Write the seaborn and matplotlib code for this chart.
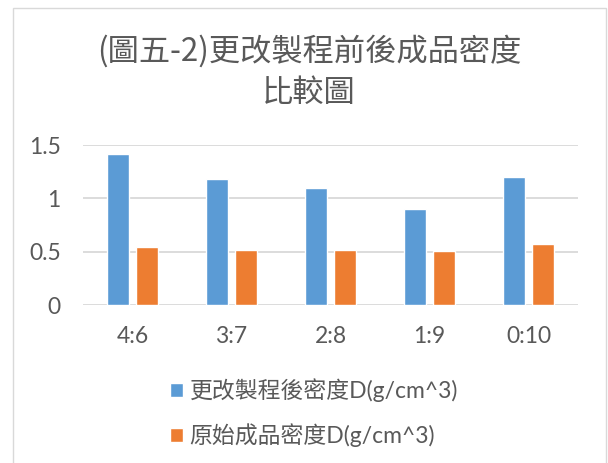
import matplotlib
matplotlib.use("Agg")
import matplotlib.pyplot as plt
import seaborn as sns
import pandas as pd
from matplotlib.patches import Rectangle

# Mixing ratios and density values (g/cm^3)
categories = ["4:6", "3:7", "2:8", "1:9", "0:10"]
after_change = [1.42, 1.18, 1.10, 0.90, 1.20]
original = [0.54, 0.52, 0.52, 0.51, 0.57]
series_names = ["更改製程後密度D(g/cm^3)", "原始成品密度D(g/cm^3)"]
y_ticks = [0, 0.5, 1, 1.5]
y_tick_labels = ["0", "0.5", "1", "1.5"]
title = "(圖五-2)更改製程前後成品密度\n比較圖"

colors = ["#5B9BD5", "#ED7D31"]
text_color = "#595959"
grid_color = "#D9D9D9"

df = pd.DataFrame({
    "ratio": categories * 2,
    "density": after_change + original,
    "series": [series_names[0]] * len(categories) + [series_names[1]] * len(categories),
})

sns.set_theme(style="white")
latin_cjk = ["Lato", "Noto Sans CJK TC", "DejaVu Sans"]
plt.rcParams["font.family"] = latin_cjk

fig = plt.figure(figsize=(6.08, 4.63), dpi=100)
ax = fig.add_axes([83 / 608, 1 - 305 / 463, (578 - 83) / 608, (305 - 145) / 463])

sns.barplot(data=df, x="ratio", y="density", hue="series", order=categories,
            hue_order=series_names, palette=colors, width=0.568, gap=0.218,
            saturation=1, ax=ax, legend=True)

ax.set_ylim(0, 1.5)
ax.set_xlim(-0.5, len(categories) - 0.5)
ax.set_yticks(y_ticks)
ax.set_yticklabels(y_tick_labels)
ax.set_xlabel("")
ax.set_ylabel("")
for s in ax.spines.values():
    s.set_visible(False)
ax.yaxis.grid(True, color=grid_color, linewidth=1.3)
ax.set_axisbelow(True)
ax.tick_params(axis="both", length=0, labelsize=16.5, colors=text_color)
ax.tick_params(axis="y", pad=16)
ax.tick_params(axis="x", pad=15)

handles, labels = ax.get_legend_handles_labels()
ax.get_legend().remove()
fig.legend(handles, labels, loc="upper left",
           bbox_to_anchor=(170 / 608, 1 - 378 / 463),
           frameon=False, fontsize=16.5, labelcolor=text_color,
           handlelength=0.55, handleheight=0.55, handletextpad=0.3,
           labelspacing=0.95, borderpad=0, borderaxespad=0)

fig.text(309 / 608, 1 - 72 / 463, title, ha="center", va="center",
         fontsize=22.5, color=text_color, linespacing=1.4,
         family=["Noto Sans CJK TC", "DejaVu Sans"], fontweight="light")

# Light chart-area border
fig.patches.append(Rectangle((13 / 608, -0.05), (606 - 13) / 608, 1 - 8 / 463 + 0.05,
                             transform=fig.transFigure, fill=False,
                             edgecolor="#D9D9D9", linewidth=1.0))

fig.savefig("out.png", dpi=100)
